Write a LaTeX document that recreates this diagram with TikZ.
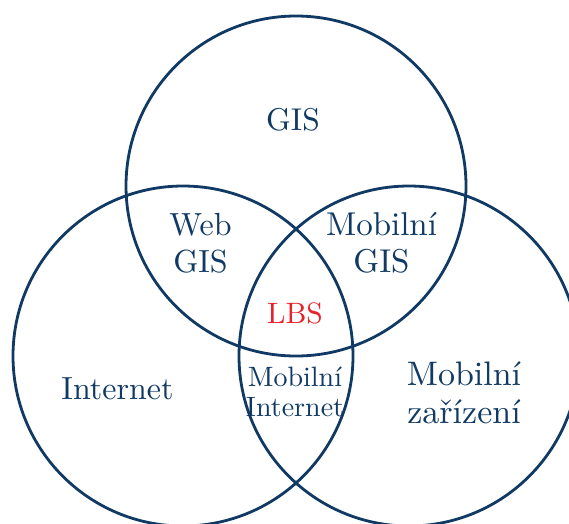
\documentclass[tikz,border=0pt]{standalone}
\usepackage{fontspec}
\setmainfont{lmroman10-regular.otf}
\usepackage{tikz}
\definecolor{navy}{RGB}{16,58,100}
\definecolor{lbsred}{RGB}{232,32,42}
\tikzset{
  ring/.style={draw=navy, line width=2.8pt},
  lbl/.style={text=navy, anchor=base, inner sep=0pt, font={\fontsize{#1}{#1}\selectfont}},
}
\begin{document}
\begin{tikzpicture}[x=1pt, y=-1pt]
\path[use as bounding box, clip] (0,0) rectangle (569,523);
\fill[white] (0,0) rectangle (569,523);
% circles
\draw[ring] (296,186) circle[radius=170];
\draw[ring] (183,356) circle[radius=170];
\draw[ring] (409,356) circle[radius=170];
% labels
\node[lbl=31.5] (gis) at (293,130) {GIS};
\node[lbl=32] (webA) at (200.5,235) {Web};
\node[lbl=32] (webB) at (200.5,272) {GIS};
\node[lbl=33] (mgA) at (381.5,235) {Mobilní};
\node[lbl=33] (mgB) at (381.5,272) {GIS};
\node[lbl=32] (inet) at (117.5,399) {Internet};
\node[lbl=34] (mzA) at (464,385) {Mobilní};
\node[lbl=34] (mzB) at (464,423) {zařízení};
\node[lbl=29.5, text=lbsred] (lbs) at (295,323) {LBS};
\node[lbl=28] (miA) at (295,386) {Mobilní};
\node[lbl=28] (miB) at (295,416) {Internet};
\end{tikzpicture}
\end{document}
